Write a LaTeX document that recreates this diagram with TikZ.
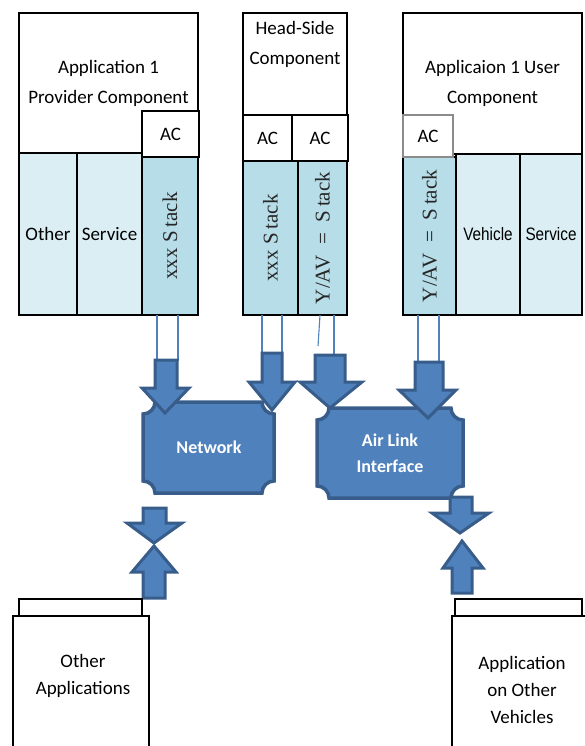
\documentclass[tikz,border=0pt]{standalone}
\usepackage{fontspec}
\setmainfont{Carlito}
\newfontfamily\stackfont{Liberation Serif}
\newfontfamily\narrowfont[FakeStretch=0.85]{Liberation Sans}
\definecolor{lightcol}{HTML}{DAEEF3}
\definecolor{stackcol}{HTML}{B7DDE8}
\definecolor{arrowfill}{HTML}{4F81BD}
\definecolor{arrowline}{HTML}{385D8A}
\tikzset{
  box/.style={draw=black, line width=1.5pt, fill=white, inner sep=0pt, outer sep=0pt,
    font=\fontsize{19}{30}\selectfont, align=center},
  lightbox/.style={box, fill=lightcol},
  stackbox/.style={box, fill=stackcol, font=\stackfont\fontsize{21}{24}\selectfont, text=black!85},
  graybox/.style={box, draw=black!45},
  blockarrow/.style={fill=arrowfill, draw=arrowline, line width=3pt, line join=miter, miter limit=4},
  plaque/.style={fill=arrowfill, draw=arrowline, line width=3.5pt},
  plaquetext/.style={text=white, font=\bfseries\fontsize{18}{26}\selectfont, align=center},
  wire/.style={draw=arrowfill, line width=1.1pt},
  label/.style={font=\fontsize{19}{30}\selectfont, align=center}
}
% name x0 y0 x1 y1 style text
\newcommand\rbox[7]{\node[#6, minimum width={(#4-#2)*1pt}, minimum height={(#5-#3)*1pt}] (#1) at ({(#2+#4)/2},{(#3+#5)/2}) {#7};}
% sx0 sx1 yend hx0 hx1 yhead tipx tipy
\newcommand\blockarr[8]{\draw[blockarrow] (#1,#3) -- (#2,#3) -- (#2,#6) -- (#5,#6) -- (#7,#8) -- (#4,#6) -- (#1,#6) -- cycle;}
% x0 y0 x1 y1 r
\newcommand\plaquepath[5]{\draw[plaque]
  ({#1+#5},#2) -- ({#3-#5},#2) .. controls ({#3-#5},{#2+0.552*#5}) and ({#3-0.552*#5},{#2+#5}) .. (#3,{#2+#5})
  -- (#3,{#4-#5}) .. controls ({#3-0.552*#5},{#4-#5}) and ({#3-#5},{#4-0.552*#5}) .. ({#3-#5},#4)
  -- ({#1+#5},#4) .. controls ({#1+#5},{#4-0.552*#5}) and ({#1+0.552*#5},{#4-#5}) .. (#1,{#4-#5})
  -- (#1,{#2+#5}) .. controls ({#1+0.552*#5},{#2+#5}) and ({#1+#5},{#2+0.552*#5}) .. ({#1+#5},#2) -- cycle;}
\newcommand\stacktext[1]{\rotatebox{90}{#1}}
\begin{document}
\begin{tikzpicture}[x=1pt,y=-1pt]
\useasboundingbox (0,0) rectangle (585,746);
\clip (0,0) rectangle (585,746);

% ---- Application 1 Provider Component ----
\rbox{provtop}{19}{13}{198}{153}{box}{Application 1\\Provider Component}
\rbox{provother}{19}{153}{77}{315}{lightbox}{Other}
\rbox{provservice}{77}{153}{142}{315}{lightbox}{Service}
\rbox{provstack}{142}{157}{198}{315}{stackbox}{\stacktext{xxx S\kern4pt tack}}
\rbox{provac}{142}{111}{199}{157}{box}{AC}

% ---- Head-Side Component ----
\rbox{headtop}{243}{13}{347}{115}{box}{}
\node[label] (headtitle) at (295,44) {Head-Side\\Component};
\rbox{headacA}{243}{115}{292}{161}{box}{AC}
\rbox{headacB}{292}{115}{348}{161}{box}{AC}
\rbox{headstackA}{243}{161}{298}{315}{stackbox}{\stacktext{xxx S\kern4pt tack}}
\rbox{headstackB}{298}{161}{347}{315}{stackbox}{\stacktext{Y/AV\ \ =\ \ S\kern4pt tack}}

% ---- Applicaion 1 User Component ----
\rbox{usertop}{403}{13}{582}{154}{box}{Applicaion 1 User\\Component}
\rbox{uservehicle}{456}{154}{520}{315}{lightbox, font=\narrowfont\fontsize{18}{20}\selectfont}{Vehicle}
\rbox{userservice}{520}{154}{582}{315}{lightbox, font=\narrowfont\fontsize{18}{20}\selectfont}{Service}
\rbox{userstack}{403}{157}{456}{315}{stackbox}{\stacktext{Y/AV\ \ =\ \ S\kern4pt tack}}
\rbox{userac}{403}{115}{453}{157}{graybox}{AC}

% ---- thin links from the stacks ----
\draw[wire] (157,315) -- (157,361);
\draw[wire] (178,315) -- (178,361);
\draw[wire] (262,315) -- (262,354);
\draw[wire] (282,315) -- (282,354);
\draw[wire] (320,315) -- (318,346);
\draw[wire] (334,315) -- (334,356);
\draw[wire] (418,315) -- (418,363);
\draw[wire] (439,315) -- (439,363);

% ---- Network and Air Link Interface ----
\plaquepath{143}{402}{274}{493}{12}
\node[plaquetext] (network) at (209,447) {Network};
\plaquepath{317}{408}{463}{498}{12}
\node[plaquetext] (airlink) at (390,453) {Air Link\\Interface};

% ---- block arrows ----
\blockarr{155}{177}{360}{142}{189}{388}{165}{413}
\blockarr{262}{282}{353}{249}{295}{382}{272}{410}
\blockarr{315}{345}{355}{300}{362}{382}{330}{408}
\blockarr{415}{443}{362}{399}{456}{390}{428}{418}
\blockarr{143}{166}{508}{127}{182}{523}{154}{543}
\blockarr{143}{165}{598}{132}{176}{572}{154}{546}
\blockarr{450}{472}{497}{432}{489}{513}{460}{533}
\blockarr{452}{472}{593}{443}{483}{568}{462}{541}

% ---- bottom boxes ----
\rbox{othertab}{19}{599}{142}{616}{box}{}
\rbox{otherapps}{13}{616}{149}{760}{box}{}
\node[label, font=\fontsize{19}{27}\selectfont] (othertitle) at (83,676) {Other\\Applications};
\rbox{vehtab}{455}{599}{582}{616}{box}{}
\rbox{vehapps}{452}{616}{600}{760}{box}{}
\node[label, font=\fontsize{19}{27}\selectfont] (vehtitle) at (522,690) {Application\\on Other\\Vehicles};
\end{tikzpicture}
\end{document}
